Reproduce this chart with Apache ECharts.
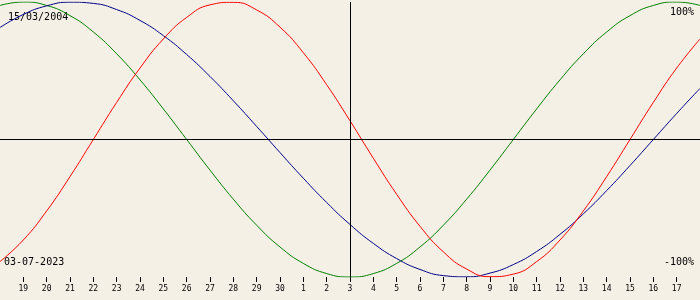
<!DOCTYPE html>
<html>
<head>
<meta charset="utf-8">
<script src="https://cdn.jsdelivr.net/npm/echarts@6/dist/echarts.min.js"></script>
<style>
html,body{margin:0;padding:0;background:#f4f0e5;}
#c{width:700px;height:300px;}
</style>
</head>
<body>
<div id="c"></div>
<script>
// Days shown: 18 June .. 18 July 2023 (index 15 = 3 July, today)
var dayLabels = ['18','19','20','21','22','23','24','25','26','27','28','29','30',
  '1','2','3','4','5','6','7','8','9','10','11','12','13','14','15','16','17','18'];
// Physical (red)
var physical = [-0.8879,-0.7308,-0.5196,-0.2698,0,0.2698,0.5196,0.7308,0.8879,0.9791,
  0.9977,0.9423,0.8170,0.6311,0.3984,0.1362,-0.1362,-0.3984,-0.6311,-0.8170,
  -0.9423,-0.9977,-0.9791,-0.8879,-0.7308,-0.5196,-0.2698,0,0.2698,0.5196,0.7308];
// Emotional (green)
var emotional = [0.9749,1,0.9749,0.9010,0.7818,0.6235,0.4339,0.2225,0,-0.2225,
  -0.4339,-0.6235,-0.7818,-0.9010,-0.9749,-1,-0.9749,-0.9010,-0.7818,-0.6235,
  -0.4339,-0.2225,0,0.2225,0.4339,0.6235,0.7818,0.9010,0.9749,1,0.9749];
// Intellectual (blue)
var intellectual = [0.8146,0.9096,0.9718,0.9989,0.9898,0.9450,0.8660,0.7557,0.6182,0.4582,
  0.2817,0.0951,-0.0951,-0.2817,-0.4582,-0.6182,-0.7557,-0.8660,-0.9450,-0.9898,
  -0.9989,-0.9718,-0.9096,-0.8146,-0.6901,-0.5406,-0.3717,-0.1893,0,0.1893,0.3717];
var todayIndex = 15;
var birthText = '15/03/2004';
var dateText = '03-07-2023';
var topText = '100%';
var bottomText = '-100%';

var mono = '"DejaVu Sans Mono", monospace';
var chart = echarts.init(document.getElementById('c'), null, {renderer:'canvas'});
function lineSeries(name, data, color) {
  return {
    name: name, type: 'line', data: data, smooth: true, symbol: 'none',
    lineStyle: {color: color, width: 1}, silent: true, animation: false
  };
}
var s3 = lineSeries('physical', physical, '#ff0000');
var s1 = lineSeries('emotional', emotional, '#008000');
var s2 = lineSeries('intellectual', intellectual, '#00008b');
s1.markLine = {
  silent: true, symbol: 'none', animation: false,
  label: {show: false},
  lineStyle: {color: '#000000', width: 1, type: 'solid'},
  data: [{xAxis: todayIndex}, {yAxis: 0}]
};
chart.setOption({
  backgroundColor: '#f4f0e5',
  animation: false,
  grid: {left: 0, right: 0, top: 2, bottom: 23},
  xAxis: {
    type: 'category', data: dayLabels, boundaryGap: false,
    axisLine: {show: false, onZero: false},
    axisTick: {show: true, length: 5, lineStyle: {color: '#000'},
      interval: function (i) { return i > 0 && i < dayLabels.length - 1; }},
    axisLabel: {show: true, color: '#000', fontFamily: mono, fontSize: 8, margin: 8,
      interval: function (i) { return i > 0 && i < dayLabels.length - 1; }},
    splitLine: {show: false}
  },
  yAxis: {
    type: 'value', min: -1, max: 1,
    axisLine: {show: false}, axisTick: {show: false}, axisLabel: {show: false},
    splitLine: {show: false}
  },
  graphic: [
    {type: 'text', left: 8, top: 12, style: {text: birthText, font: '10px ' + mono, fill: '#000'}},
    {type: 'text', left: 4, top: 257, style: {text: dateText, font: '10px ' + mono, fill: '#000'}},
    {type: 'text', right: 6, top: 7, style: {text: topText, font: '10px ' + mono, fill: '#000'}},
    {type: 'text', right: 6, top: 257, style: {text: bottomText, font: '10px ' + mono, fill: '#000'}}
  ],
  series: [s1, s2, s3]
});
</script>
</body>
</html>
